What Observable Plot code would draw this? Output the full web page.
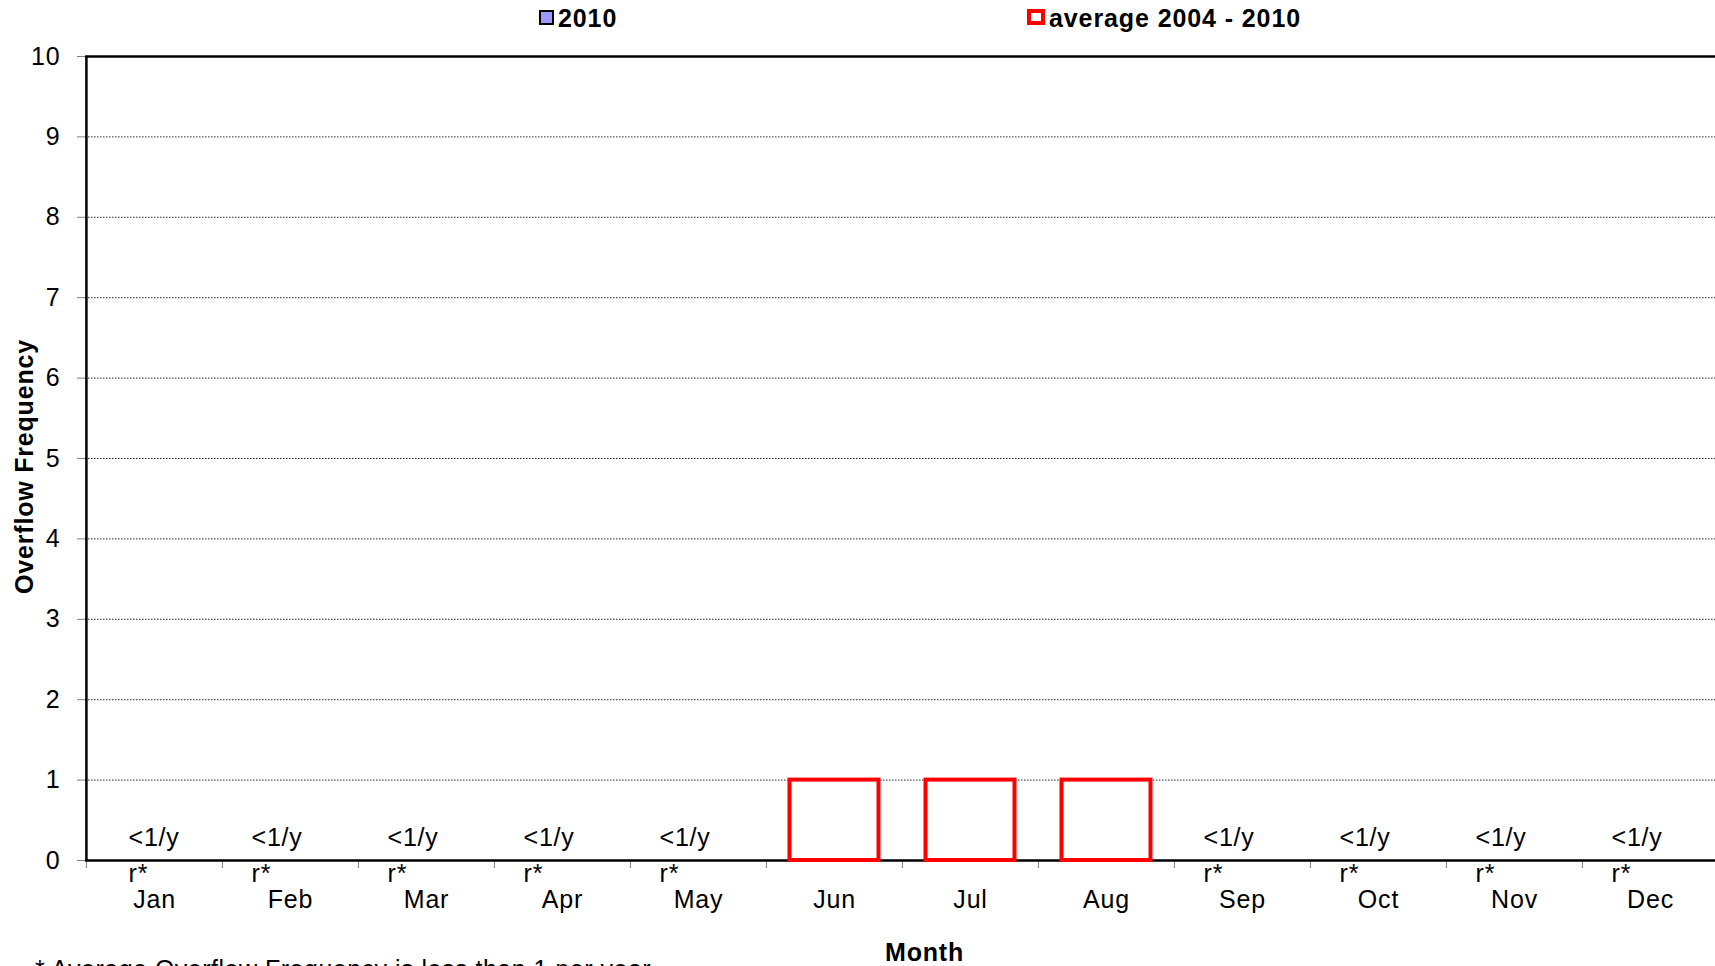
<!DOCTYPE html>
<html>
<head>
<meta charset="utf-8">
<script src="https://cdn.jsdelivr.net/npm/d3@7"></script>
<script src="https://cdn.jsdelivr.net/npm/@observablehq/plot@0.6"></script>
<style>
html, body { margin: 0; padding: 0; background: #fff; }
#wrap { position: relative; width: 1715px; height: 966px; overflow: hidden; font-family: "Liberation Sans", Arial, sans-serif; }
#chart { position: absolute; left: 0; top: 0; }
.lg { position: absolute; font-weight: bold; font-size: 25px; line-height: 25px; letter-spacing: 0.9px; white-space: nowrap; color: #000; }
.sw { position: absolute; box-sizing: border-box; }
#foot { position: absolute; left: 35px; top: 957px; font-size: 25px; line-height: 25px; letter-spacing: 0.5px; white-space: nowrap; color: #000; }
</style>
</head>
<body>
<div id="wrap">
  <div id="chart"></div>
  <div id="legend"></div>
  <div id="foot"></div>
</div>
<script>
// ---- data ----
const months = ["Jan", "Feb", "Mar", "Apr", "May", "Jun", "Jul", "Aug", "Sep", "Oct", "Nov", "Dec"];
const values2010 = [0, 0, 0, 0, 0, 0, 0, 0, 0, 0, 0, 0];
const average2004to2010 = [0, 0, 0, 0, 0, 1, 1, 1, 0, 0, 0, 0];
const lowLabels = ["<1/y\nr*", "<1/y\nr*", "<1/y\nr*", "<1/y\nr*", "<1/y\nr*", "", "", "", "<1/y\nr*", "<1/y\nr*", "<1/y\nr*", "<1/y\nr*"];
const yTicks = [0, 1, 2, 3, 4, 5, 6, 7, 8, 9, 10];
const gridTicks = [1, 2, 3, 4, 5, 6, 7, 8, 9];
const seriesNames = ["2010", "average 2004 - 2010"];
const seriesColors = ["#9999FF", "#FF0000"];
const xTitle = "Month";
const yTitle = "Overflow Frequency";
const footnote = "* Average Overflow Frequency is less than 1 per year";

// ---- table ----
const table = months.map((m, i) => ({month: m, v2010: values2010[i], avg: average2004to2010[i], label: lowLabels[i]}));

// ---- layout ----
const W = 1715, H = 966;
const mL = 85, mR = -4, mT = 56, mB = 106;
const band = (W - mR - mL) / months.length;
const font = "'Liberation Sans', Arial, sans-serif";
const labelStyle = {x: "month", y: 0, text: "label", textAnchor: "start", lineAnchor: "top", dy: -40.5, fontSize: 25, lineHeight: 1.46, fill: "#000"};

const chart = Plot.plot({
  width: W,
  height: H,
  marginLeft: mL,
  marginRight: mR,
  marginTop: mT,
  marginBottom: mB,
  style: {fontFamily: font, fontSize: "25px", letterSpacing: "0.8px", background: "#fff", color: "#000"},
  x: {domain: months, padding: 0},
  y: {domain: [0, 10]},
  marks: [
    Plot.ruleY(gridTicks, {stroke: "#000", strokeWidth: 1, strokeDasharray: "1.5,1.5", strokeOpacity: 0.85}),
    Plot.ruleY([10], {stroke: "#000", strokeWidth: 2.5}),
    Plot.ruleX([months[0]], {dx: -band / 2, stroke: "#000", strokeWidth: 2.5}),
    Plot.axisY({ticks: yTicks, tickSize: 8, tickPadding: 17, stroke: "#808080", fill: "#000", fontSize: 25, label: null, tickFormat: d => String(d)}),
    Plot.axisX({ticks: months, tickSize: 8, dx: -band / 2, stroke: "#808080", tickFormat: () => "", label: null}),
    Plot.axisX({ticks: months, tickSize: 0, tickPadding: 30, fill: "#000", fontSize: 25, label: null}),
    Plot.ruleY([0], {stroke: "#000", strokeWidth: 2.5}),
    Plot.barY(table.filter(d => d.v2010 > 0), {x: "month", y: "v2010", fill: seriesColors[0], stroke: "#000", insetLeft: 23, insetRight: 23}),
    Plot.barY(table.filter(d => d.avg > 0), {x: "month", y: "avg", fill: "#fff", stroke: seriesColors[1], strokeWidth: 4, insetLeft: 23.5, insetRight: 23.5}),
    Plot.text(table.filter((d, i) => d.label && i === 0), {...labelStyle, dx: -26}),
    Plot.text(table.filter((d, i) => d.label && i > 0), {...labelStyle, dx: -39}),
    Plot.text([xTitle], {frameAnchor: "bottom", lineAnchor: "bottom", dx: 22, dy: 100, fontSize: 25, fontWeight: "bold", fill: "#000"}),
    Plot.text([yTitle], {frameAnchor: "left", rotate: -90, textAnchor: "middle", lineAnchor: "bottom", dx: -53, dy: 8, fontSize: 25, fontWeight: "bold", fill: "#000"})
  ]
});
document.getElementById("chart").appendChild(chart);

// ---- legend (above the plot area) ----
const legend = document.getElementById("legend");
const legendSpec = [
  {name: seriesNames[0], sx: 539, sy: 10, sw: 15, sh: 15, bg: seriesColors[0], border: "2px solid #000", tx: 558},
  {name: seriesNames[1], sx: 1027, sy: 9, sw: 18, sh: 16, bg: "#fff", border: "4px solid " + seriesColors[1], tx: 1049}
];
legendSpec.forEach(s => {
  const sw = document.createElement("div");
  sw.className = "sw";
  Object.assign(sw.style, {left: s.sx + "px", top: s.sy + "px", width: s.sw + "px", height: s.sh + "px", background: s.bg, border: s.border});
  legend.appendChild(sw);
  const t = document.createElement("div");
  t.className = "lg";
  t.textContent = s.name;
  Object.assign(t.style, {left: s.tx + "px", top: "6px"});
  legend.appendChild(t);
});
document.getElementById("foot").textContent = footnote;
</script>
</body>
</html>
